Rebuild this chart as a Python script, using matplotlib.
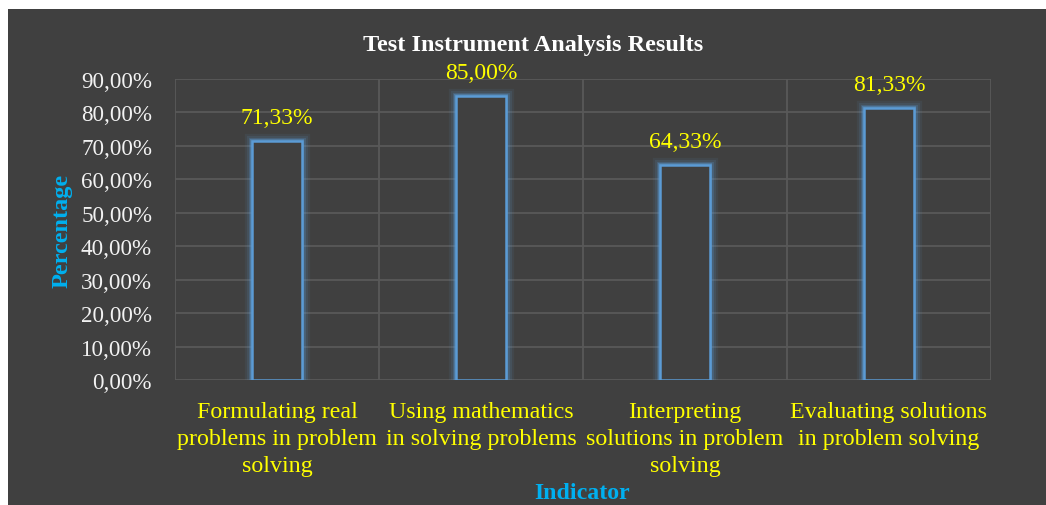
import matplotlib
matplotlib.use("Agg")
import matplotlib.pyplot as plt
import matplotlib.patheffects as pe
from matplotlib.patches import Rectangle

categories = [
    "Formulating real\nproblems in problem\nsolving",
    "Using mathematics\nin solving problems",
    "Interpreting\nsolutions in problem\nsolving",
    "Evaluating solutions\nin problem solving",
]
values = [71.33, 85.00, 64.33, 81.33]
yticks = [0, 10, 20, 30, 40, 50, 60, 70, 80, 90]

BG = "#404040"
GRID = "#595959"
BAR = "#5B9BD5"
YEL = "#FFFF00"
BLUE = "#00B0F0"
SERIF = ["Liberation Serif", "DejaVu Serif"]

W, H = 1046, 506
fig = plt.figure(figsize=(W / 100, H / 100), dpi=100, facecolor="white")
fig.patches.append(Rectangle((8 / W, 0), 1 - 8 / W, (H - 10) / H,
                             transform=fig.transFigure, facecolor=BG,
                             edgecolor="none", zorder=-10))

ax = fig.add_axes([175 / W, 1 - 381 / H, (991 - 175) / W, (381 - 80) / H])
ax.set_facecolor(BG)
ax.patch.set_alpha(0)

x = list(range(len(values)))
bars = ax.bar(x, values, width=0.245, facecolor=BG, edgecolor=BAR,
              linewidth=1.8, zorder=3)
for b in bars:
    b.set_path_effects([
        pe.Stroke(linewidth=11, foreground=BAR, alpha=0.08),
        pe.Stroke(linewidth=8, foreground=BAR, alpha=0.12),
        pe.Stroke(linewidth=5, foreground=BAR, alpha=0.22),
        pe.Stroke(linewidth=3, foreground=BAR, alpha=0.4),
        pe.Normal(),
    ])

for xi, v in zip(x, values):
    ax.text(xi, v + 3.9, f"{v:.2f}".replace(".", ",") + "%", ha="center",
            va="bottom", color=YEL, fontsize=17, family=SERIF)

ax.set_xlim(-0.5, len(values) - 0.5)
ax.set_ylim(0, 90)
ax.set_yticks(yticks)
ax.set_yticklabels([f"{t:.2f}".replace(".", ",") + "%" for t in yticks],
                   color="#F2F2F2", fontsize=16.6, family=SERIF)
ax.set_xticks(x)
ax.set_xticklabels(categories, color=YEL, fontsize=17.3, family=SERIF,
                   linespacing=1.37, va="top")
ax.tick_params(axis="both", length=0)
ax.tick_params(axis="y", pad=16.5)
ax.tick_params(axis="x", pad=15)

ax.grid(axis="y", color=GRID, linewidth=1.3, zorder=0)
for xb in [-0.5, 0.5, 1.5, 2.5, len(values) - 0.5]:
    ax.axvline(xb, color=GRID, linewidth=1.3, zorder=0)
for s in ax.spines.values():
    s.set_visible(False)

fig.text(533 / W, 1 - 45 / H, "Test Instrument Analysis Results",
         ha="center", va="center", color="white", fontsize=17.5,
         fontweight="bold", family=SERIF)
fig.text(62 / W, 1 - 231 / H, "Percentage", rotation=90, ha="center",
         va="center", color=BLUE, fontsize=17.5, fontweight="bold",
         family=SERIF)
fig.text(582 / W, 1 - 494 / H, "Indicator", ha="center", va="center",
         color=BLUE, fontsize=17.2, fontweight="bold", family=SERIF)

fig.savefig("out.png", dpi=100, facecolor="white")
